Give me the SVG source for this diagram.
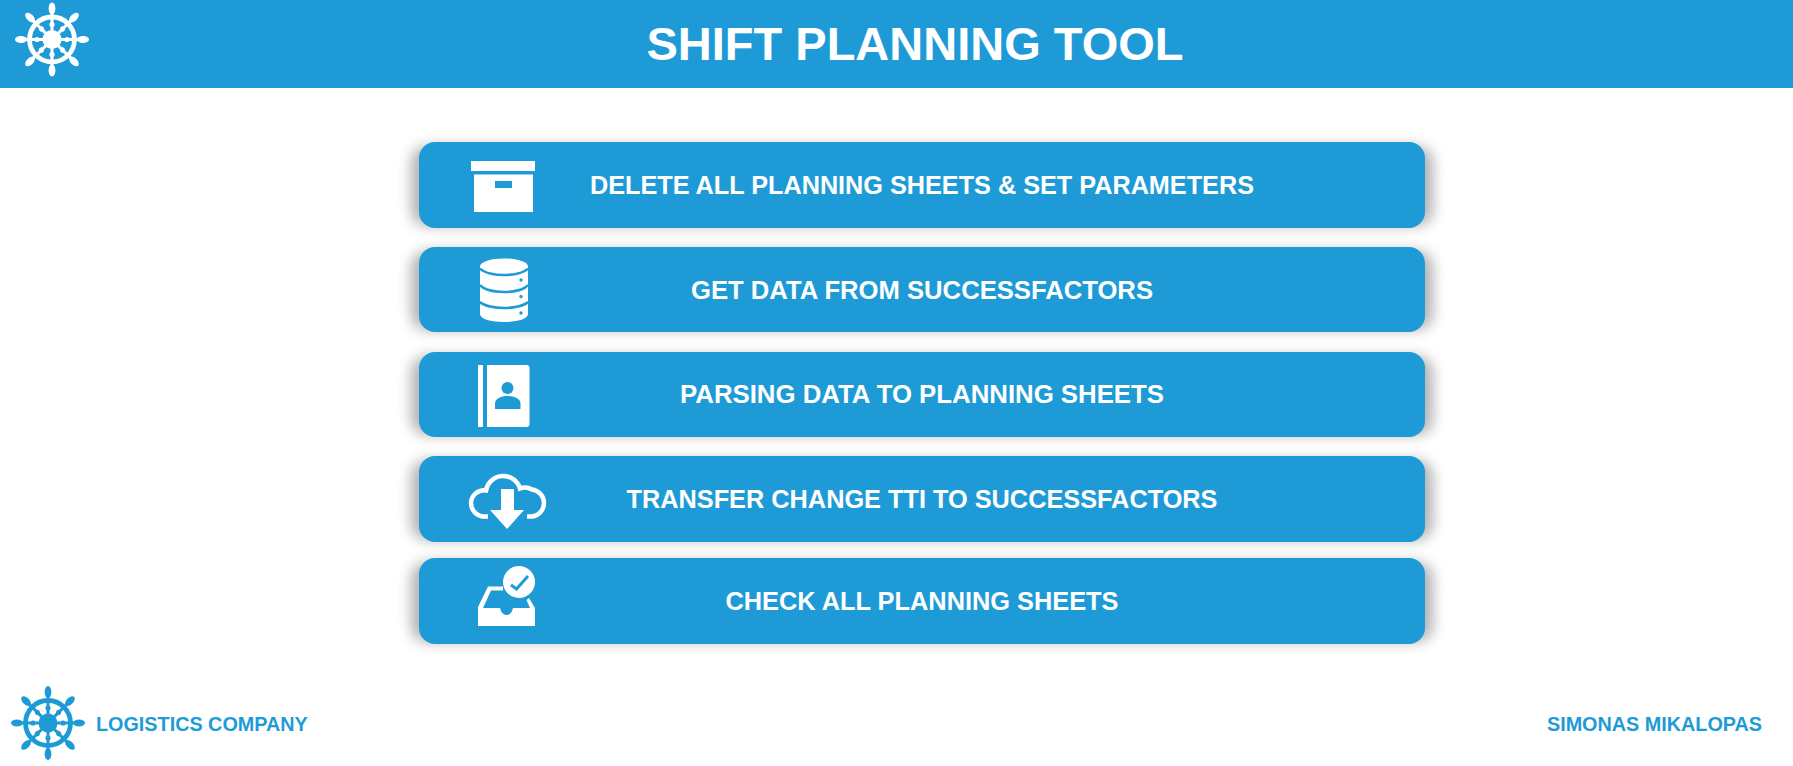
<svg xmlns="http://www.w3.org/2000/svg" xmlns:xlink="http://www.w3.org/1999/xlink" width="1793" height="766" viewBox="0 0 1793 766">
<style>
text{font-family:"Liberation Sans",Arial,sans-serif;font-weight:700}
.bt{font-size:25.500px;fill:#fff;text-anchor:middle}
.ft{font-size:19.800px;fill:#1e9bd7}
.bar{fill:#1e9bd7}
.sh{fill:#000;opacity:.3}
.w{fill:#fff}
.b{fill:#1e9bd7}
</style>
<defs>
<filter id="sh" x="-5%" y="-40%" width="110%" height="180%"><feGaussianBlur stdDeviation="7"/></filter>
<g id="spoke"><path d="M0-9V-28" stroke="currentColor" stroke-width="3" fill="none"/><ellipse cy="-31" rx="3.400" ry="6" fill="currentColor"/><circle cy="-15" r="2.600" fill="currentColor"/></g>
<g id="wheel"><circle r="22.500" fill="none" stroke="currentColor" stroke-width="4.800"/><circle r="9.500" fill="currentColor"/>
<use xlink:href="#spoke"/><use xlink:href="#spoke" transform="rotate(45)"/><use xlink:href="#spoke" transform="rotate(90)"/><use xlink:href="#spoke" transform="rotate(135)"/><use xlink:href="#spoke" transform="rotate(180)"/><use xlink:href="#spoke" transform="rotate(225)"/><use xlink:href="#spoke" transform="rotate(270)"/><use xlink:href="#spoke" transform="rotate(315)"/></g>
</defs>
<rect width="1793" height="766" fill="#fff"/>
<g id="header"><rect width="1793" height="88" fill="#1e9bd7"/>
<use xlink:href="#wheel" transform="translate(52 39.500)" color="#fff"/>
<text x="915" y="60" font-size="47" fill="#fff" text-anchor="middle">SHIFT PLANNING TOOL</text></g>
<g id="connectors"></g>
<g id="node1"><rect class="sh" x="411" y="146" width="1022" height="80" rx="16" filter="url(#sh)"/><rect class="bar" x="419" y="142" width="1006" height="86" rx="16"/>
<path class="w" d="M471 161h64v10h-64zM474 174.500h59V212h-59z"/><rect class="b" x="495" y="181" width="17" height="7"/>
<text class="bt" x="922" y="194" textLength="664" lengthAdjust="spacingAndGlyphs">DELETE ALL PLANNING SHEETS &amp; SET PARAMETERS</text></g>
<g id="node2"><rect class="sh" x="411" y="251" width="1022" height="79" rx="16" filter="url(#sh)"/><rect class="bar" x="419" y="247" width="1006" height="85" rx="16"/>
<path class="w" d="M480 266.500C480 262 491 258.500 504 258.500S528 262 528 266.500V314C528 319 517 322 504 322S480 319 480 314Z"/>
<path d="M480 268.500C484 273 495 275 504 275S524 273 528 268.500M480 285C484 290 495 292 504 292S524 290 528 285M480 302C484 306 495 308 504 308S524 306 528 302" fill="none" stroke="#1e9bd7" stroke-width="2.600"/>
<circle class="b" cx="521" cy="280" r="1.700"/><circle class="b" cx="521" cy="296.500" r="1.700"/><circle class="b" cx="521" cy="313" r="1.700"/>
<text class="bt" x="922" y="299" textLength="462" lengthAdjust="spacingAndGlyphs">GET DATA FROM SUCCESSFACTORS</text></g>
<g id="node3"><rect class="sh" x="411" y="356" width="1022" height="79" rx="16" filter="url(#sh)"/><rect class="bar" x="419" y="352" width="1006" height="85" rx="16"/>
<path class="w" d="M478 365h5v62h-5zM487 365h39.500a3 3 0 0 1 3 3v56a3 3 0 0 1-3 3h-39.500z"/>
<circle class="b" cx="507.500" cy="388" r="6"/><path class="b" d="M495 409v-5.500c0-5 6-7.500 12.500-7.500s13 2.500 13 7.500v5.500z"/>
<text class="bt" x="922" y="403" textLength="484" lengthAdjust="spacingAndGlyphs">PARSING DATA TO PLANNING SHEETS</text></g>
<g id="node4"><rect class="sh" x="411" y="460" width="1022" height="80" rx="16" filter="url(#sh)"/><rect class="bar" x="419" y="456" width="1006" height="86" rx="16"/>
<path d="M488 516.500H484A13.500 13.500 0 0 1 471 503A13 13 0 0 1 486 490.500A17.500 17.500 0 0 1 520 488.500Q526 486 532 489.500A13.500 13.500 0 0 1 544 503A13.500 13.500 0 0 1 531 516.500H527" fill="none" stroke="#fff" stroke-width="4.500"/>
<path class="w" d="M501 489h13v21h10l-17 19-17-19h11z"/>
<text class="bt" x="922" y="508" textLength="591" lengthAdjust="spacingAndGlyphs">TRANSFER CHANGE TTI TO SUCCESSFACTORS</text></g>
<g id="node5"><rect class="sh" x="411" y="562" width="1022" height="80" rx="16" filter="url(#sh)"/><rect class="bar" x="419" y="558" width="1006" height="86" rx="16"/>
<path class="w" d="M478 626V607L488 586.500H503V590.500H491L483 608H500C501 612 503 615 506.500 615S512 612 513 608H530L526.500 600 529 598 535 608V626Z"/>
<circle class="w" cx="519" cy="582" r="16"/><path d="M511 585L516.500 589 528 576" fill="none" stroke="#1e9bd7" stroke-width="3"/>
<text class="bt" x="922" y="610" textLength="393" lengthAdjust="spacingAndGlyphs">CHECK ALL PLANNING SHEETS</text></g>
<g id="footer"><use xlink:href="#wheel" transform="translate(48 723)" color="#1e9bd7"/>
<text class="ft" x="96" y="731">LOGISTICS COMPANY</text>
<text class="ft" x="1762" y="731" text-anchor="end">SIMONAS MIKALOPAS</text></g>
</svg>
